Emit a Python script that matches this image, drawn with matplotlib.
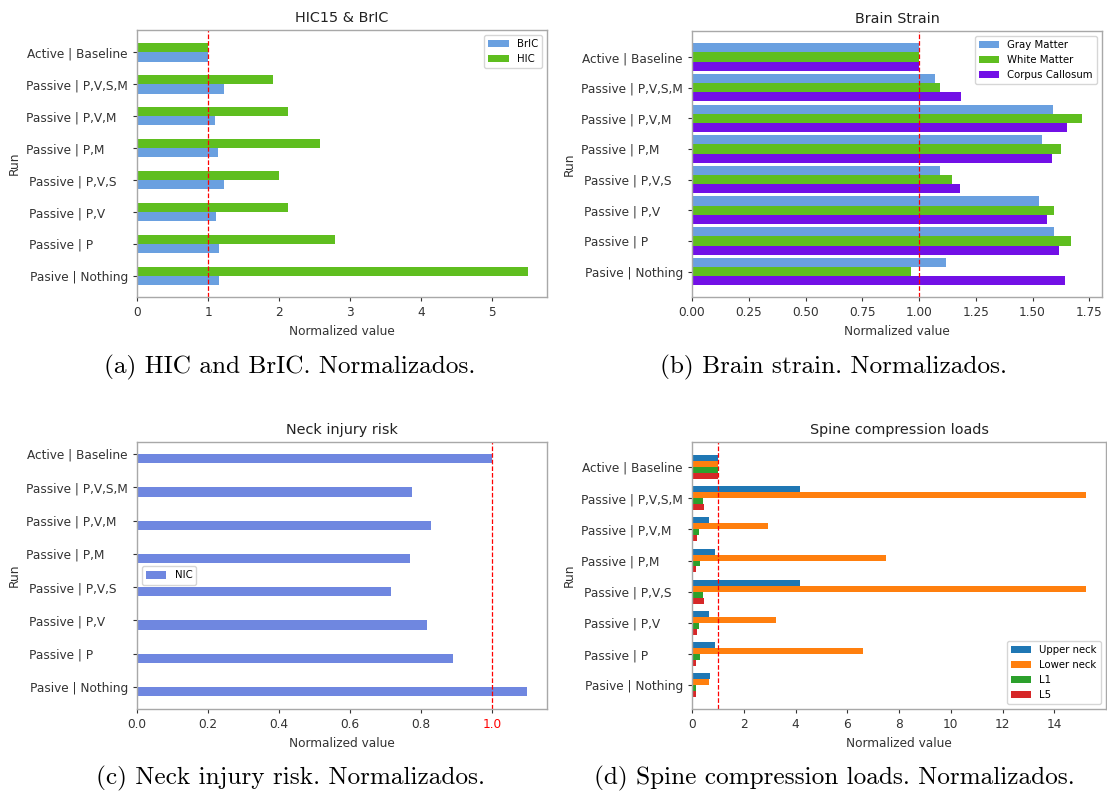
import numpy as np
import matplotlib
matplotlib.use('Agg')
import matplotlib.pyplot as plt

# run names, top to bottom as they appear on the y axis
runs = ['Active | Baseline', 'Passive | P,V,S,M', 'Passive | P,V,M   ', 'Passive | P,M      ',
        'Passive | P,V,S   ', 'Passive | P,V      ', 'Passive | P         ', 'Pasive | Nothing']

# (a) head injury criteria
bric = [1.00, 1.23, 1.10, 1.14, 1.22, 1.11, 1.15, 1.15]
hic = [1.00, 1.92, 2.13, 2.57, 2.00, 2.13, 2.79, 5.50]

# (b) brain strain
gray_matter = [1.00, 1.07, 1.59, 1.54, 1.094, 1.527, 1.596, 1.121]
white_matter = [1.00, 1.091, 1.716, 1.627, 1.146, 1.594, 1.668, 0.963]
corpus_callosum = [1.00, 1.184, 1.653, 1.584, 1.181, 1.562, 1.617, 1.645]

# (c) neck injury criterion
nic = [1.00, 0.774, 0.827, 0.769, 0.716, 0.816, 0.890, 1.099]

# (d) spine compression loads
upper_neck = [1.00, 4.17, 0.65, 0.88, 4.17, 0.64, 0.88, 0.69]
lower_neck = [1.00, 15.22, 2.93, 7.49, 15.22, 3.26, 6.62, 0.64]
l1 = [1.00, 0.43, 0.26, 0.31, 0.43, 0.27, 0.31, 0.16]
l5 = [1.00, 0.46, 0.18, 0.16, 0.46, 0.18, 0.16, 0.14]

plt.rcParams['font.family'] = 'DejaVu Sans'
plt.rcParams['axes.edgecolor'] = '#a8a8a8'
plt.rcParams['axes.linewidth'] = 1.0
plt.rcParams['xtick.color'] = '#333333'
plt.rcParams['ytick.color'] = '#333333'
plt.rcParams['xtick.labelsize'] = 8.7
plt.rcParams['ytick.labelsize'] = 8.7
plt.rcParams['xtick.major.size'] = 3
plt.rcParams['ytick.major.size'] = 3
plt.rcParams['axes.labelsize'] = 8.7
plt.rcParams['axes.labelcolor'] = '#333333'
plt.rcParams['axes.titlesize'] = 10.4
plt.rcParams['legend.fontsize'] = 7.3

W, H = 1107, 794
fig = plt.figure(figsize=(W / 100, H / 100), dpi=100)


def box(x0, x1, y0, y1):
    return [x0 / W, 1 - y1 / H, (x1 - x0) / W, (y1 - y0) / H]


pos = np.arange(len(runs))[::-1]


def finish(ax, title, xlim, ylim):
    ax.set_yticks(pos)
    ax.set_yticklabels(runs)
    ax.set_xlim(*xlim)
    ax.set_ylim(*ylim)
    ax.set_title(title, color='#222222')
    ax.set_xlabel('Normalized value')
    ax.set_ylabel('Run')
    ax.axvline(1, color='red', ls='--', lw=0.9)


# (a)
ax = fig.add_axes(box(137, 547, 30, 297))
ax.barh(pos - 0.145, bric, height=0.29, color='#6aa0e0', label='BrIC')
ax.barh(pos + 0.145, hic, height=0.29, color='#5fbe1f', label='HIC')
finish(ax, 'HIC15 & BrIC', (0, 5.77), (-0.66, 7.70))
ax.set_xticks(range(6))
ax.legend(loc='upper right')

# (b)
ax = fig.add_axes(box(692, 1102, 31, 297))
ax.barh(pos + 0.3, gray_matter, height=0.3, color='#6aa0e0', label='Gray Matter')
ax.barh(pos, white_matter, height=0.3, color='#5fbe1f', label='White Matter')
ax.barh(pos - 0.3, corpus_callosum, height=0.3, color='#7210e6', label='Corpus Callosum')
finish(ax, 'Brain Strain', (0, 1.806), (-0.83, 7.85))
ax.set_xticks(np.arange(0, 1.8, 0.25))
ax.set_xticklabels(['%.2f' % v for v in np.arange(0, 1.8, 0.25)])
ax.legend(loc='upper right')

# (c)
ax = fig.add_axes(box(137, 547, 442, 709))
ax.barh(pos - 0.14, nic, height=0.28, color='#6f87e0', label='NIC')
finish(ax, 'Neck injury risk', (0, 1.155), (-0.66, 7.36))
ax.set_xticks(np.arange(0, 1.1, 0.2))
ax.set_xticklabels(['%.1f' % v for v in np.arange(0, 1.1, 0.2)])
ax.get_xticklabels()[-1].set_color('red')
ax.legend(loc='center left')

# (d)
ax = fig.add_axes(box(692, 1106, 442, 709))
h = 0.19
ax.barh(pos + 1.5 * h, upper_neck, height=h, color='#1f77b4', label='Upper neck')
ax.barh(pos + 0.5 * h, lower_neck, height=h, color='#ff7f0e', label='Lower neck')
ax.barh(pos - 0.5 * h, l1, height=h, color='#2ca02c', label='L1')
ax.barh(pos - 1.5 * h, l5, height=h, color='#d62728', label='L5')
finish(ax, 'Spine compression loads', (0, 16.0), (-0.76, 7.8))
ax.set_xticks(range(0, 15, 2))
ax.legend(loc='lower right')

# subfigure captions
cap = dict(family='cmr10', fontsize=18.2, ha='center', va='center', color='black')
fig.text(290 / W, 1 - 367 / H, '(a) HIC and BrIC. Normalizados.', **cap)
fig.text(834 / W, 1 - 367 / H, '(b) Brain strain. Normalizados.', **cap)
fig.text(290 / W, 1 - 778 / H, '(c) Neck injury risk. Normalizados.', **cap)
fig.text(834 / W, 1 - 778 / H, '(d) Spine compression loads. Normalizados.', **cap)

fig.savefig('out.png', dpi=100)
